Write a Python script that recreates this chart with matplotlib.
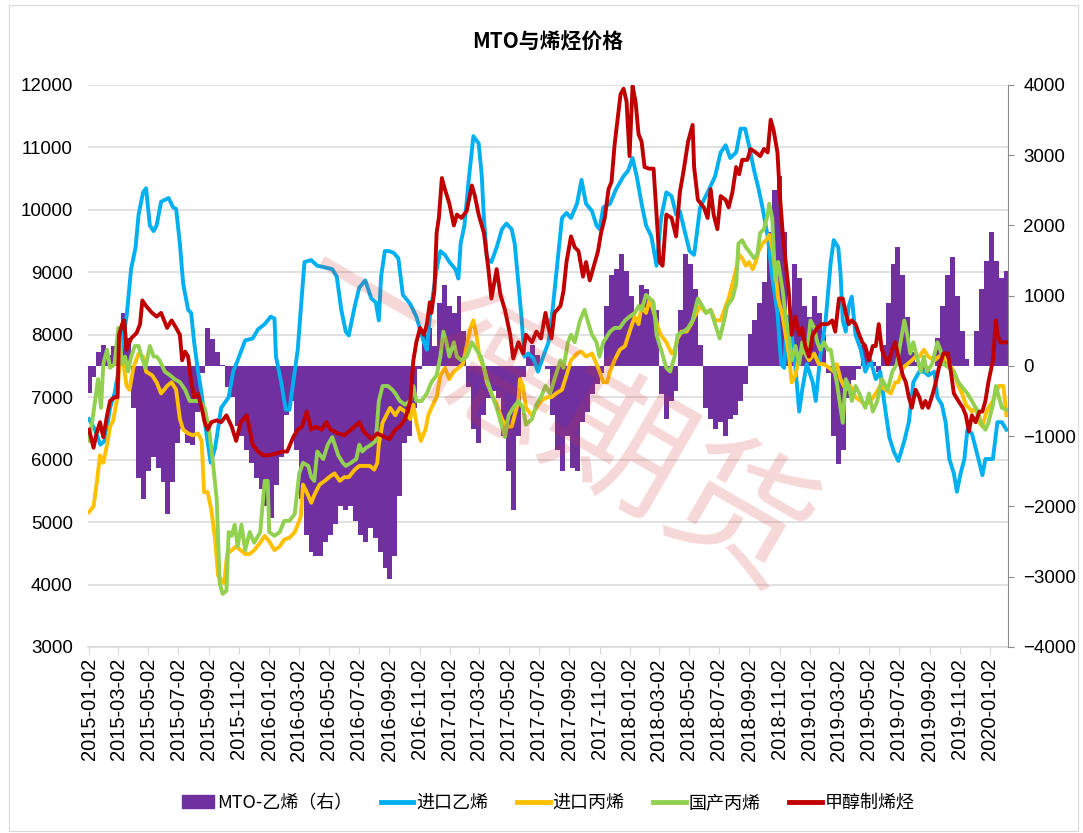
import numpy as np
import pandas as pd
import matplotlib
matplotlib.use('Agg')
import matplotlib.pyplot as plt
from matplotlib.patches import Patch, Rectangle
from matplotlib.lines import Line2D

plt.rcParams['font.family'] = ['Noto Sans CJK SC', 'DejaVu Sans']

# time of each reading, in months since 2015-01-02
base = pd.Timestamp('2015-01-02')

# MTO-乙烯 spread (right axis), one value every 10 days from 2015-01-02
spread_v = [-390, -150, 200, 300, 150, 290, 500, 750, 400, -600,
            -1600, -1900, -1500, -1300, -1450, -1650, -2100, -1650, -1100, -900,
            -1100, -1120, -650, -100, 545, 380, 200, 20, -300, -440,
            -850, -1000, -1200, -1380, -1600, -1750, -2000, -2160, -1700, -1300,
            -700, -500, -1200, -1900, -2400, -2650, -2700, -2700, -2500, -2400,
            -2250, -2000, -2050, -2000, -2200, -2400, -2500, -2300, -2450, -2650,
            -2880, -3030, -2700, -1850, -1100, -1000, -600, -50, 440, 545,
            290, 900, 1150, 850, 750, 1000, 500, -300, -900, -1100,
            -700, -450, -350, -450, -1000, -1500, -2050, -1000, -150, 150,
            300, 150, 0, -50, -700, -1200, -1500, -1000, -1450, -1500,
            -800, -650, -400, -250, -100, 850, 1300, 1380, 1600, 1350,
            1000, 700, 1150, 1100, 950, 800, -400, -750, -500, -350,
            800, 1600, 1450, 1100, 300, -600, -750, -900, -800, -1000,
            -750, -700, -500, -250, 450, 650, 900, 1200, 1900, 2500,
            2700, 1900, 700, 1450, 1250, 850, 700, 1000, 750, 440,
            -100, -1000, -1400, -1200, -450, -200, -50, 300, 150, 50,
            -80, 300, 900, 1450, 1700, 1300, 700, 200, 50, -100,
            -100, 0, 400, 850, 1300, 1550, 1000, 500, 100, 0,
            500, 1100, 1500, 1900, 1500, 1250, 1350]

# 进口乙烯
eth_t = [0, 0.4, 0.75, 1.05, 1.4, 1.7, 1.95, 2.3, 2.5, 2.8, 3.1, 3.3, 3.6, 3.8, 4.05, 4.3,
         4.5, 4.8, 5.3, 5.6, 5.8, 6.05, 6.27, 6.6, 6.8, 7.0, 7.26, 7.5, 7.75, 8.1, 8.4, 8.8,
         9.3, 9.6, 9.9, 10.4, 10.9, 11.25, 11.7, 12.1, 12.35, 12.45, 12.8, 13.1, 13.35, 13.6,
         13.9, 14.1, 14.35, 14.8, 15.2, 15.7, 16.2, 16.5, 16.8, 17.1, 17.3, 17.7, 18.0, 18.4,
         18.8, 19.1, 19.3, 19.45, 19.7, 20.0, 20.3, 20.6, 20.9, 21.4, 21.8, 22.3, 22.5, 22.7,
         23.15, 23.4, 23.7, 24.0, 24.4, 24.6, 24.75, 25.0, 25.3, 25.6, 25.95, 26.15, 26.3,
         26.5, 26.8, 27.15, 27.5, 27.8, 28.15, 28.35, 28.6, 28.8, 29.0, 29.25, 29.6, 29.9,
         30.25, 30.6, 30.9, 31.1, 31.5, 31.8, 32.1, 32.5, 32.8, 33.1, 33.5, 33.8, 34.0, 34.25,
         34.7, 35.1, 35.6, 35.9, 36.2, 36.5, 36.8, 37.1, 37.45, 37.8, 38.1, 38.45, 38.8, 39.1,
         39.35, 39.7, 40.0, 40.3, 40.7, 41.3, 41.7, 42.07, 42.4, 42.7, 43.1, 43.4, 43.7, 43.95,
         44.3, 44.6, 44.85, 45.2, 45.5, 45.85, 46.1, 46.3, 46.5, 46.8, 47.05, 47.3, 47.5, 47.8,
         48.2, 48.4, 48.7, 49.06, 49.4, 49.6, 49.9, 50.05, 50.2, 50.4, 50.6, 50.8, 51.05, 51.4,
         51.7, 52.05, 52.4, 52.7, 52.95, 53.3, 53.6, 53.9, 54.3, 54.6, 54.9, 55.3, 55.6, 55.9,
         56.3, 56.5, 56.8, 57.05, 57.3, 57.6, 57.8, 58.05, 58.3, 58.5, 58.8, 59.3, 59.5, 59.7,
         60.2, 60.5, 60.8, 61.1]
eth_v = [6650, 6480, 6240, 6300, 6830, 7060, 7410, 8000, 8290, 9050, 9400, 9925, 10280, 10345, 9750, 9660,
         9750, 10130, 10190, 10040, 10015, 9460, 8815, 8400, 8350, 7880, 7410, 7060, 6535, 5950, 6190, 6830,
         7000, 7410, 7590, 7910, 7940, 8085, 8170, 8290, 8260, 7650, 7240, 6800, 6800, 7240,
         7760, 8400, 9165, 9195, 9105, 9080, 9050, 8930, 8400, 8050, 7990, 8460, 8755, 8870,
         8580, 8520, 8230, 8930, 9340, 9340, 9310, 9225, 8640, 8490, 8290, 7880, 7760, 8290,
         9050, 9340, 9280, 9165, 9050, 8900, 9460, 9750, 10510, 11180, 11065, 10570, 9870,
         9225, 9165, 9400, 9690, 9780, 9690, 9460, 8815, 8290, 7650, 7700, 7620, 7410,
         7650, 7880, 8460, 8930, 9870, 9950, 9870, 10100, 10480, 10100, 9980, 9750, 9690, 10040,
         10100, 10330, 10540, 10625, 10830, 10510, 10100, 9750, 9575, 9105, 9870, 10280, 10220, 9925,
         9980, 9630, 9340, 9280, 10040, 10330, 10540, 10920, 11035, 10830, 10920, 11300, 11300, 11035,
         10625, 10330, 10040, 9575, 8930, 8350, 7530, 7470, 8290, 8000, 7470, 6770, 7120, 7530,
         7240, 6940, 7650, 8230, 9165, 9515, 9400, 8990, 8230, 8050, 8460, 8610, 8000, 7760,
         7410, 7590, 7290, 7410, 6940, 6360, 6130, 5980, 6300, 6600, 7240, 7410, 7410, 7350,
         7410, 7000, 6880, 6600, 6010, 5780, 5485, 5780, 6010, 6480, 6420, 5950, 5750, 6010,
         6010, 6600, 6600, 6480]

# 进口丙烯
pim_t = [0, 0.3, 0.5, 0.73, 0.95, 1.2, 1.4, 1.6, 1.85, 2.05, 2.3, 2.5, 2.7, 2.95, 3.3, 3.6, 3.8,
         4.2, 4.5, 4.8, 5.2, 5.5, 5.8, 6.05, 6.27, 6.6, 6.9, 7.26, 7.5, 7.66, 7.9, 8.15, 8.4, 8.6,
         8.8, 9.0, 9.2, 9.5, 9.8, 10.1, 10.4, 10.7, 11.0, 11.4, 11.7, 12.0, 12.35, 12.7, 13.0,
         13.35, 13.7, 13.9, 14.1, 14.25, 14.5, 14.8, 15.0, 15.35, 15.7, 16.0, 16.35, 16.7, 17.0,
         17.3, 17.7, 18.0, 18.3, 18.7, 19.0, 19.2, 19.3, 19.55, 19.8, 20.05, 20.4, 20.7, 21.05,
         21.4, 21.6, 21.8, 22.1, 22.4, 22.6, 22.8, 23.15, 23.4, 23.7, 24.0, 24.3, 24.6, 24.9,
         25.2, 25.4, 25.6, 25.8, 26.0, 26.3, 26.5, 26.8, 27.15, 27.5, 27.8, 28.15, 28.35, 28.6,
         28.7, 28.9, 29.1, 29.5, 29.8, 30.1, 30.5, 30.8, 31.1, 31.5, 31.8, 32.1, 32.5, 32.8,
         33.1, 33.5, 33.8, 34.0, 34.25, 34.5, 34.7, 35.0, 35.35, 35.7, 36.0, 36.35, 36.6, 36.8,
         37.1, 37.35, 37.7, 37.9, 38.1, 38.45, 38.8, 39.0, 39.2, 39.45, 39.8, 40.1, 40.45, 40.7,
         41.1, 41.4, 41.7, 42.07, 42.4, 42.6, 42.85, 43.1, 43.3, 43.5, 43.75, 43.95, 44.2, 44.4,
         44.6, 44.85, 45.1, 45.3, 45.5, 45.7, 45.9, 46.2, 46.4, 46.6, 46.8, 47.05, 47.3, 47.6,
         47.95, 48.3, 48.6, 48.95, 49.3, 49.6, 49.8, 50.05, 50.4, 50.7, 51.05, 51.4, 51.7, 52.05,
         52.4, 52.7, 53.05, 53.4, 53.7, 53.9, 54.2, 54.5, 54.8, 55.05, 55.3, 55.6, 55.9, 56.3,
         56.6, 56.9, 57.3, 57.6, 57.9, 58.15, 58.4, 58.6, 58.8, 59.05, 59.3, 59.5, 59.7, 59.9,
         60.2, 60.4, 60.6, 60.9, 61.1]
pim_v = [5160, 5250, 5600, 6070, 5950, 6240, 6530, 6620, 6940, 7590, 7530, 7180, 7120, 7470, 7700, 7650, 7410,
         7350, 7240, 7060, 7180, 7240, 7120, 6650, 6480, 6420, 6390, 6420, 6300, 5480, 5480, 5190, 4720, 4140,
         4080, 4020, 4490, 4550, 4610, 4550, 4490, 4490, 4550, 4670, 4780, 4690, 4550, 4610, 4720,
         4750, 4840, 4960, 5080, 5600, 5480, 5310, 5430, 5600, 5660, 5720, 5780, 5660, 5720,
         5720, 5840, 5900, 5900, 5900, 5840, 5950, 6240, 6590, 6710, 6830, 6710, 6830, 6770,
         6650, 6880, 6590, 6300, 6480, 6710, 6830, 7000, 7350, 7470, 7290, 7410, 7470, 7530,
         7880, 8110, 8230, 7990, 7650, 7470, 7240, 7060, 6880, 6650, 6530, 6530, 6710, 6940,
         7290, 7180, 6830, 6710, 6830, 6940, 7000, 7000, 7060, 7120, 7350, 7590, 7700, 7730,
         7650, 7700, 7530, 7410, 7240, 7240, 7410, 7590, 7760, 7820, 8050, 8290, 8170, 8460,
         8350, 8580, 8290, 8110, 7990, 7880, 7700, 7760, 7940, 8050, 8050, 8170, 8350, 8460,
         8350, 8400, 8230, 8230, 8460, 8580, 8815, 9050, 9280, 9225, 9105, 9165, 9050, 9165,
         9340, 9460, 9515, 9600, 9400, 9050, 8580, 8290, 7990, 7700, 7240, 7350, 7650, 7760,
         7590, 7700, 7530, 7530, 7470, 7410, 7530, 7290, 7120, 7180, 7000, 6940, 6880, 6940,
         7060, 7180, 7120, 7060, 7240, 7240, 7470, 7530, 7590, 7650, 7650, 7760, 7650, 7590,
         7650, 7650, 7530, 7410, 7180, 7060, 6880, 6830, 6770, 6830, 6590, 6530, 6710, 6830,
         6940, 7060, 7180, 7180, 6710]

# 国产丙烯
pdm_t = [0, 0.2, 0.4, 0.6, 0.8, 0.95, 1.2, 1.4, 1.7, 1.95, 2.2, 2.4, 2.6, 2.8, 3.05, 3.3, 3.5,
         3.75, 4.05, 4.3, 4.5, 4.7, 5.05, 5.4, 5.7, 6.05, 6.4, 6.7, 7.0, 7.4, 7.7, 8.0, 8.3, 8.5,
         8.6, 8.7, 8.9, 9.15, 9.3, 9.5, 9.7, 9.9, 10.15, 10.4, 10.7, 11.0, 11.4, 11.7, 11.9, 12.0,
         12.35, 12.7, 13.0, 13.35, 13.7, 14.0, 14.25, 14.6, 14.8, 15.0, 15.2, 15.6, 15.9, 16.2,
         16.6, 16.9, 17.1, 17.45, 17.8, 18.0, 18.2, 18.45, 18.8, 19.1, 19.3, 19.55, 19.9, 20.2,
         20.4, 20.7, 21.05, 21.4, 21.6, 21.8, 22.15, 22.5, 22.8, 23.15, 23.4, 23.6, 23.8, 24.0,
         24.3, 24.5, 24.8, 25.15, 25.5, 25.8, 26.1, 26.5, 26.8, 27.15, 27.5, 27.7, 27.95, 28.25,
         28.6, 28.9, 29.1, 29.5, 29.8, 30.1, 30.4, 30.7, 31.0, 31.4, 31.6, 31.9, 32.1, 32.35,
         32.7, 33.0, 33.2, 33.5, 33.8, 34.0, 34.25, 34.7, 35.0, 35.35, 35.7, 36.0, 36.35, 36.6,
         36.8, 37.1, 37.35, 37.6, 37.8, 38.1, 38.45, 38.7, 39.0, 39.2, 39.6, 39.9, 40.2, 40.55,
         41.1, 41.4, 41.7, 42.0, 42.3, 42.5, 42.85, 43.1, 43.25, 43.5, 43.75, 43.95, 44.3, 44.5,
         44.7, 44.95, 45.2, 45.3, 45.5, 45.7, 45.9, 46.2, 46.4, 46.6, 46.8, 47.05, 47.3, 47.5,
         47.8, 48.05, 48.3, 48.5, 48.7, 48.95, 49.2, 49.4, 49.6, 49.8, 50.05, 50.2, 50.4, 50.6,
         50.8, 51.05, 51.3, 51.5, 51.7, 51.95, 52.2, 52.5, 52.8, 53.2, 53.5, 53.8, 54.05, 54.3,
         54.5, 54.7, 54.9, 55.2, 55.4, 55.6, 55.8, 56.15, 56.5, 56.7, 56.9, 57.3, 57.6, 57.9,
         58.3, 58.5, 58.8, 59.2, 59.4, 59.7, 59.9, 60.2, 60.4, 60.6, 60.8, 61.1]
pdm_v = [6300, 6590, 6940, 7290, 6830, 7530, 7760, 7470, 7530, 8110, 7530, 7650, 7410, 7650, 7820, 7820, 7650,
         7470, 7820, 7650, 7650, 7590, 7410, 7350, 7290, 7240, 7120, 6940, 6940, 6940, 6830, 6480, 5840, 5370,
         4720, 4020, 3850, 3900, 4840, 4780, 4960, 4610, 4960, 4550, 4840, 4670, 4840, 5660, 5660, 4840,
         4780, 4840, 5020, 5020, 5130, 5780, 5950, 5900, 5720, 5660, 6130, 6010, 6240, 6360,
         6070, 5950, 5900, 5950, 6010, 6240, 6130, 6190, 6240, 6300, 6940, 7180, 7180, 7120,
         7060, 6940, 6880, 6940, 7180, 6940, 6940, 7060, 7240, 7350, 7650, 8050, 7880, 7650,
         7880, 7650, 7590, 7650, 7880, 7760, 7650, 7290, 7060, 6830, 6530, 6360, 6710, 6830,
         6940, 6830, 6560, 6650, 6880, 7000, 7180, 7060, 7290, 7590, 7470, 7880, 8000, 7880,
         8230, 8400, 8230, 8000, 7880, 7650, 7880, 8050, 8110, 8110, 8230, 8290, 8350, 8460,
         8400, 8640, 8580, 8520, 8000, 7760, 7470, 7410, 7650, 8000, 8050, 8110, 8230, 8580,
         8350, 8400, 8170, 7940, 8230, 8460, 8580, 8810, 9460, 9515, 9400, 9340, 9225, 9280,
         9630, 9690, 9925, 10100, 9870, 8870, 9165, 8700, 8290, 7990, 7590, 7820, 7530, 7880,
         7650, 8230, 8110, 7880, 7760, 7880, 7760, 7760, 7470, 7240, 6830, 6590, 7290, 7180,
         6940, 7180, 7060, 6940, 6830, 7060, 6770, 6940, 7290, 7120, 7410, 7530, 7880, 8230,
         7990, 7700, 7880, 7590, 7410, 7650, 7410, 7530, 7880, 7760, 7530, 7470, 7410, 7240,
         7120, 7060, 6940, 6770, 6590, 6480, 6590, 6880, 7180, 7000, 6830, 6800]

# 甲醇制烯烃
mto_t = [0, 0.3, 0.5, 0.73, 0.95, 1.2, 1.4, 1.7, 1.9, 2.0, 2.2, 2.35, 2.5, 2.8, 3.17, 3.4, 3.55,
         3.8, 4.2, 4.5, 4.8, 5.2, 5.5, 5.8, 6.05, 6.2, 6.4, 6.6, 6.8, 7.0, 7.26, 7.5, 7.7, 7.9,
         8.15, 8.5, 8.8, 9.15, 9.5, 9.8, 10.1, 10.5, 10.7, 10.9, 11.25, 11.6, 12.0, 12.5, 12.9,
         13.2, 13.6, 13.9, 14.2, 14.5, 14.8, 15.1, 15.5, 15.8, 16.1, 16.6, 17.0, 17.45, 18.0,
         18.3, 18.8, 19.2, 19.7, 20.0, 20.4, 20.7, 21.05, 21.4, 21.6, 21.8, 22.05, 22.3, 22.5,
         22.7, 22.8, 23.0, 23.15, 23.3, 23.5, 23.7, 24.0, 24.3, 24.5, 24.8, 25.15, 25.5, 25.7,
         25.95, 26.3, 26.6, 26.8, 27.15, 27.4, 27.7, 28.05, 28.25, 28.6, 28.9, 29.1, 29.5, 29.8,
         30.1, 30.4, 30.6, 30.8, 31.0, 31.4, 31.6, 31.8, 32.1, 32.35, 32.6, 32.9, 33.1, 33.35,
         33.7, 33.9, 34.1, 34.35, 34.6, 34.8, 35.0, 35.4, 35.6, 35.8, 36.0, 36.2, 36.4, 36.6,
         36.8, 37.0, 37.3, 37.6, 37.8, 38.0, 38.2, 38.45, 38.8, 39.1, 39.35, 39.6, 39.9, 40.2,
         40.3, 40.55, 40.95, 41.2, 41.4, 41.6, 41.85, 42.07, 42.4, 42.6, 42.85, 43.1, 43.3, 43.5,
         43.85, 44.06, 44.4, 44.7, 44.95, 45.2, 45.4, 45.6, 45.85, 46.0, 46.2, 46.4, 46.6, 46.8,
         47.05, 47.3, 47.5, 47.7, 47.95, 48.2, 48.5, 48.8, 49.2, 49.5, 49.7, 49.95, 50.2, 50.4,
         50.6, 50.8, 51.05, 51.3, 51.5, 51.7, 51.95, 52.2, 52.4, 52.6, 52.8, 53.2, 53.5, 53.7,
         53.9, 54.2, 54.4, 54.6, 54.8, 55.05, 55.3, 55.5, 55.7, 55.9, 56.2, 56.4, 56.6, 56.9,
         57.2, 57.4, 57.6, 57.9, 58.2, 58.4, 58.6, 58.8, 59.05, 59.3, 59.5, 59.7, 59.9, 60.2,
         60.4, 60.5, 60.7, 61.1]
mto_v = [6480, 6190, 6420, 6600, 6360, 6710, 6940, 7000, 7000, 8000, 8170, 8230, 7760, 7940, 8030, 8170, 8550,
         8460, 8350, 8290, 8350, 8110, 8230, 8110, 8000, 7590, 7730, 7650, 7240, 7000, 7060, 6830, 6600, 6480,
         6600, 6630, 6600, 6710, 6530, 6300, 6600, 6710, 6480, 6240, 6130, 6070, 6070, 6100, 6130,
         6130, 6360, 6480, 6530, 6770, 6480, 6530, 6480, 6600, 6480, 6420, 6390, 6480, 6600,
         6450, 6330, 6420, 6360, 6330, 6480, 6530, 6650, 6940, 7590, 7880, 8110, 8000, 8170,
         8520, 8350, 8700, 9630, 9870, 10510, 10330, 10100, 9750, 9925, 9870, 9980, 10390, 10220,
         9925, 9630, 9050, 8580, 9050, 8640, 8400, 8000, 7620, 7880, 7700, 8000, 7880, 8050,
         7940, 8350, 8110, 7940, 8350, 8460, 8700, 9165, 9575, 9400, 9340, 8930, 9165, 8870,
         9165, 9340, 9630, 9870, 10330, 10450, 11035, 11850, 11940, 11735, 10860, 11980, 11735, 11210,
         11095, 10685, 10660, 10660, 9925, 9165, 9105, 9925, 9870, 9575, 10280, 10625, 11095, 11360,
         10685, 10160, 10040, 9870, 10330, 9925, 9690, 10220, 10160, 10040, 10280, 10685, 10570, 10800,
         10800, 10975, 10920, 10860, 10975, 10920, 11445, 11270, 10920, 10280, 9630, 9165, 8700, 8000,
         8290, 8000, 8110, 7820, 7650, 8000, 8110, 8170, 8170, 8230, 8050, 8580, 8580, 8350,
         8170, 8230, 8170, 8000, 7880, 7820, 7590, 7820, 7820, 8170, 7760, 7530, 7760, 7880,
         7650, 7350, 7240, 7000, 6830, 7120, 7000, 6830, 6940, 6830, 7060, 7240, 7470, 7700,
         7700, 7410, 7060, 6940, 6830, 6710, 6450, 6710, 6600, 6770, 6770, 6940, 7240, 7590,
         8230, 8000, 7880, 7880]

tick_dates = pd.date_range('2015-01-01', '2020-01-01', freq='2MS') + pd.Timedelta(days=1)


def to_dates(t):
    return base + pd.to_timedelta(np.asarray(t) * 30.44, unit='D')


spread_dates = pd.date_range(base, periods=len(spread_v), freq='10D')

fig = plt.figure(figsize=(10.83, 8.33), dpi=100)
ax = fig.add_axes([0.0813, 0.2233, 0.8494, 0.6747])
axb = ax.twinx()
axl = ax.twinx()

grid_c = '#d9d9d9'
num_font = ['Liberation Sans Narrow', 'Liberation Sans', 'DejaVu Sans']

# left axis: gridlines only
ax.set_ylim(3000, 12000)
ax.set_yticks(np.arange(3000, 12001, 1000))
ax.yaxis.grid(True, color=grid_c, lw=1.1)
ax.set_axisbelow(True)
ax.tick_params(axis='y', length=0, pad=11, labelsize=13.5)
for lab in ax.get_yticklabels():
    lab.set_family(num_font)
for s in ('left', 'top', 'right'):
    ax.spines[s].set_visible(False)
ax.spines['bottom'].set_color(grid_c)
ax.spines['bottom'].set_linewidth(1.1)

# bars on right axis
axb.bar(spread_dates, spread_v, width=10, color='#7030A0', linewidth=0)
axb.set_ylim(-4000, 4000)
axb.set_yticks(np.arange(-4000, 4001, 1000))
axb.tick_params(axis='y', length=4, color='#8c8c8c', pad=7, labelsize=13.5)
for lab in axb.get_yticklabels():
    lab.set_family(num_font)
for s in ('left', 'top', 'bottom'):
    axb.spines[s].set_visible(False)
axb.spines['right'].set_color('#8c8c8c')

# price lines, left scale, drawn over the bars
axl.set_ylim(3000, 12000)
lw = 2.8
axl.plot(to_dates(eth_t), eth_v, color='#00B0F0', lw=lw, solid_joinstyle='round')
axl.plot(to_dates(pim_t), pim_v, color='#FFC000', lw=lw, solid_joinstyle='round')
axl.plot(to_dates(pdm_t), pdm_v, color='#92D050', lw=lw, solid_joinstyle='round')
axl.plot(to_dates(mto_t), mto_v, color='#C00000', lw=lw, solid_joinstyle='round')
axl.yaxis.set_visible(False)
for s in axl.spines.values():
    s.set_visible(False)

ax.set_xlim(base - pd.Timedelta(days=2), pd.Timestamp('2020-02-08'))
ax.set_xticks(tick_dates)
ax.set_xticklabels([d.strftime('%Y-%m-%d') for d in tick_dates], rotation=90,
                   family=['Liberation Sans', 'DejaVu Sans'], fontsize=14.5)
ax.tick_params(axis='x', length=5, color=grid_c, pad=3)

fig.text(0.506, 0.9496, 'MTO与烯烃价格', ha='center', va='center',
         fontsize=15, fontweight='bold')

# watermark
fig.text(0.51, 0.50, '一德期货', ha='center', va='center', rotation=-30,
         fontsize=102, color='#d03030', alpha=0.19, zorder=10)

handles = [Patch(color='#7030A0'),
           Line2D([], [], color='#00B0F0', lw=3.5),
           Line2D([], [], color='#FFC000', lw=3.5),
           Line2D([], [], color='#92D050', lw=3.5),
           Line2D([], [], color='#C00000', lw=3.5)]
labels = ['MTO-乙烯（右）', '进口乙烯', '进口丙烯', '国产丙烯', '甲醇制烯烃']
fig.legend(handles, labels, loc='center', bbox_to_anchor=(0.506, 0.036), ncol=5,
           frameon=False, fontsize=13, handlelength=1.8, handletextpad=0.15,
           columnspacing=1.6)

fig.add_artist(Rectangle((0.008, 0.003), 0.987, 0.991, transform=fig.transFigure,
                         fill=False, edgecolor=grid_c, lw=0.8))

fig.savefig('out.png', dpi=100)
